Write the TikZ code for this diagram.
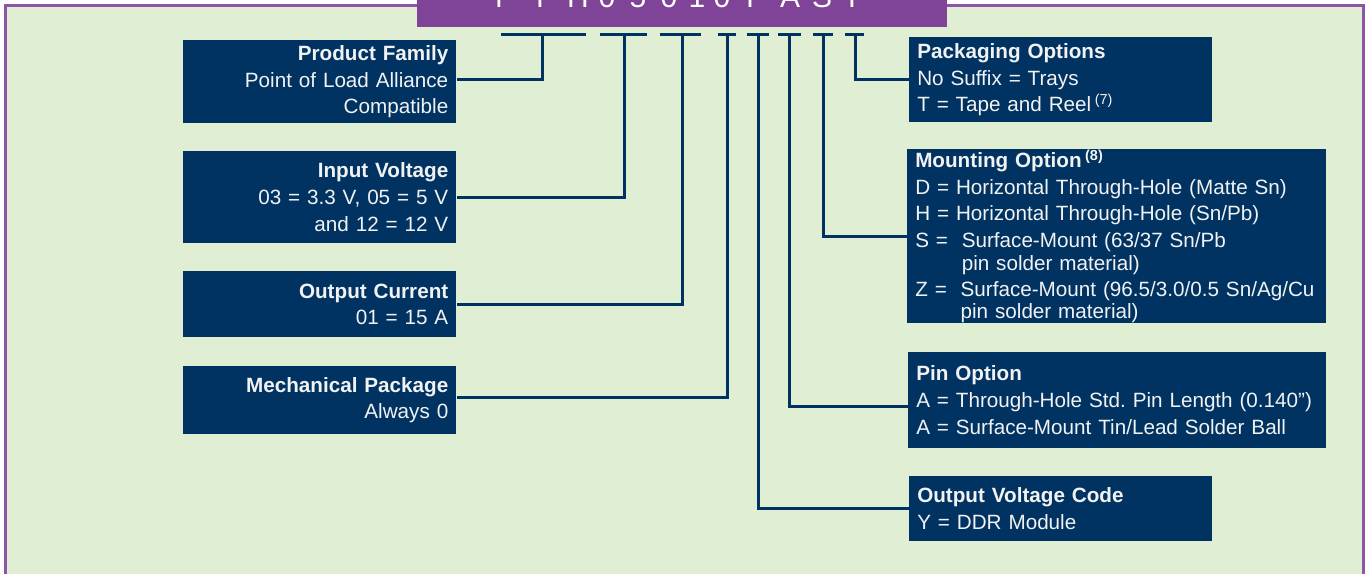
\documentclass[tikz,border=0pt]{standalone}
\usepackage{fontspec}
\setmainfont{Liberation Sans}
\definecolor{navy}{RGB}{0,51,98}
\definecolor{sfondo}{RGB}{224,238,212}
\definecolor{cornice}{RGB}{142,84,166}
\definecolor{fascia}{RGB}{127,68,151}
\definecolor{testo}{RGB}{242,242,242}

\begin{document}
\begin{tikzpicture}[x=0.75pt,y=-0.75pt,
    box/.style={fill=navy, text=testo, anchor=north west, inner xsep=6pt, inner ysep=0pt,
        font=\fontsize{15.5}{20}\selectfont},
    leftbox/.style={box, text width=192.75pt, align=right},
    rightbox/.style={box, align=left},
    cifra/.style={text=white, anchor=base, inner sep=0pt, font=\fontsize{22.5}{24}\selectfont},
    link/.style={navy, line width=2.25pt}]
    \clip (0,0) rectangle (1370,574);

    % Sfondo e cornice
    \fill[white] (0,0) rectangle (1370,574);
    \fill[sfondo] (5.5,6) rectangle (1363,590);
    \draw[cornice, line width=2.25pt] (5.5,590) -- (5.5,6) -- (1363,6) -- (1363,590);

    % Fascia con il codice
    \node[fill=fascia, anchor=south west, inner sep=0pt, minimum width=397.5pt, minimum height=30pt] (code) at (417,27.5) {};
    \node[cifra] (c1) at (505,7.5) {P};
    \node[cifra] (c2) at (540,7.5) {T};
    \node[cifra] (c3) at (578,7.5) {H};
    \node[cifra] (c4) at (607,7.5) {0};
    \node[cifra] (c5) at (638,7.5) {5};
    \node[cifra] (c6) at (669,7.5) {0};
    \node[cifra] (c7) at (697,7.5) {1};
    \node[cifra] (c8) at (722,7.5) {0};
    \node[cifra] (c9) at (750,7.5) {Y};
    \node[cifra] (c10) at (790,7.5) {A};
    \node[cifra] (c11) at (822,7.5) {S};
    \node[cifra] (c12) at (852,7.5) {T};

    % Riquadri a sinistra
    \node[leftbox, minimum height=62.25pt] (family) at (183,40) {\textbf{Product Family}\\Point of Load Alliance\\Compatible};
    \node[leftbox, minimum height=69pt] (vin) at (183,151) {\textbf{Input Voltage}\\03 = 3.3 V, 05 = 5 V\\and 12 = 12 V};
    \node[leftbox, minimum height=49.5pt] (iout) at (183,271) {\textbf{Output Current}\\01 = 15 A};
    \node[leftbox, minimum height=51pt] (mech) at (183,366) {\textbf{Mechanical Package}\\Always 0};

    % Riquadri a destra
    \node[rightbox, text width=215.25pt, minimum height=63.75pt] (pack) at (909,37) {\textbf{Packaging Options}\\No Suffix = Trays\\T = Tape and Reel\,\textsuperscript{(7)}};
    \node[rightbox, text width=302.25pt, minimum height=130.5pt] (mount) at (907,149) {\textbf{Mounting Option}\,\textsuperscript{\textbf{(8)}}\\
        D = Horizontal Through-Hole (Matte Sn)\\
        H = Horizontal Through-Hole (Sn/Pb)\\
        S =\ \ Surface-Mount (63/37 Sn/Pb\\[-3pt]
        \phantom{S =\ \ }pin solder material)\\
        Z =\ \ Surface-Mount (96.5/3.0/0.5 Sn/Ag/Cu\\[-4pt]
        \phantom{Z =\ \ }pin solder material)};
    \node[rightbox, text width=301.5pt, minimum height=72pt] (pin) at (908,352) {\textbf{Pin Option}\\A = Through-Hole Std.\ Pin Length (0.140\textquotedblright)\\A = Surface-Mount Tin/Lead Solder Ball};
    \node[rightbox, text width=215.25pt, minimum height=48.75pt] (vout) at (909,476) {\textbf{Output Voltage Code}\\Y = DDR Module};

    % Tratti sotto il codice
    \coordinate (a1) at (501,35); \coordinate (b1) at (586,35); \coordinate (t1) at (542,35);
    \coordinate (a2) at (600,35); \coordinate (b2) at (647,35); \coordinate (t2) at (624,35);
    \coordinate (a3) at (660,35); \coordinate (b3) at (701,35); \coordinate (t3) at (682,35);
    \coordinate (a4) at (718,35); \coordinate (b4) at (736,35); \coordinate (t4) at (727,35);
    \coordinate (a5) at (747,35); \coordinate (b5) at (769,35); \coordinate (t5) at (758,35);
    \coordinate (a6) at (778,35); \coordinate (b6) at (801,35); \coordinate (t6) at (789,35);
    \coordinate (a7) at (813,35); \coordinate (b7) at (833,35); \coordinate (t7) at (823,35);
    \coordinate (a8) at (845,35); \coordinate (b8) at (864,35); \coordinate (t8) at (855,35);
    \draw[link] (a1) -- (b1);
    \draw[link] (a2) -- (b2);
    \draw[link] (a3) -- (b3);
    \draw[link] (a4) -- (b4);
    \draw[link] (a5) -- (b5);
    \draw[link] (a6) -- (b6);
    \draw[link] (a7) -- (b7);
    \draw[link] (a8) -- (b8);

    % Collegamenti
    \draw[link] (t1) |- ([yshift=2pt]family.east);
    \draw[link] (t2) |- (vin.east);
    \draw[link] (t3) |- (iout.east);
    \draw[link] (t4) |- ([yshift=2pt]mech.east);
    \draw[link] (t5) |- (vout.west);
    \draw[link] (t6) |- ([yshift=-4.5pt]pin.west);
    \draw[link] (t7) |- (mount.west);
    \draw[link] (t8) |- (pack.west);
\end{tikzpicture}
\end{document}
